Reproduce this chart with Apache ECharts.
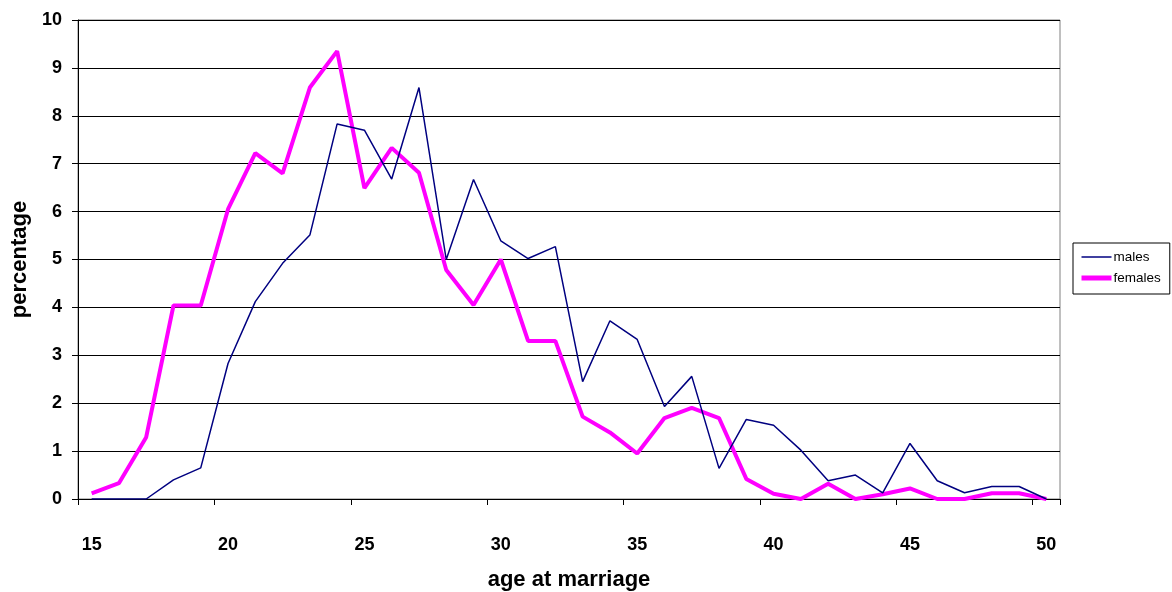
<!DOCTYPE html>
<html>
<head>
<meta charset="utf-8">
<script src="https://cdn.jsdelivr.net/npm/echarts@6/dist/echarts.min.js"></script>
<style>
  html, body { margin: 0; padding: 0; background: #fff; }
  #chart { width: 1172px; height: 592px; }
</style>
</head>
<body>
<div id="chart"></div>
<script>
// age at marriage, 15..50
const ages = [];
for (let a = 15; a <= 50; a++) ages.push(String(a));

const males = [
  0, 0, 0, 0.40, 0.65, 2.83, 4.12, 4.92, 5.51, 7.83,
  7.70, 6.68, 8.59, 5.00, 6.67, 5.39, 5.02, 5.27, 2.45, 3.72,
  3.33, 1.93, 2.56, 0.64, 1.66, 1.54, 1.02, 0.38, 0.50, 0.13,
  1.16, 0.38, 0.13, 0.26, 0.26, 0
];

const females = [
  0.12, 0.33, 1.29, 4.04, 4.04, 6.05, 7.22, 6.80, 8.59, 9.35,
  6.49, 7.33, 6.81, 4.78, 4.05, 5.00, 3.30, 3.30, 1.72, 1.39,
  0.95, 1.69, 1.90, 1.69, 0.42, 0.11, 0, 0.32, 0, 0.10,
  0.22, 0, 0, 0.12, 0.12, 0
];

const font = "Liberation Sans, Arial, sans-serif";

const myChart = echarts.init(document.getElementById("chart"));

const option = {
  backgroundColor: "#fff",
  animation: false,
  grid: {
    left: 78,
    right: 112,
    top: 20,
    bottom: 93,
    outerBoundsMode: "none",
    containLabel: false,
    show: true,
    borderColor: "#808080",
    borderWidth: 1,
  },
  legend: {
    orient: "vertical",
    left: 1073,
    top: 243,
    padding: [7, 9, 9, 6],
    itemGap: 7,
    itemWidth: 30,
    itemHeight: 14,
    backgroundColor: "#fff",
    borderColor: "#000",
    borderWidth: 1,
    borderRadius: 0,
    itemStyle: { opacity: 0 },
    textStyle: { fontFamily: font, fontSize: 13.5, color: "#000", padding: [0, 0, 0, -3] },
    data: [
      { name: "males", lineStyle: { width: 1.5, color: "#000080" } },
      { name: "females", lineStyle: { width: 5, color: "#FF00FF" } },
    ],
  },
  xAxis: {
    type: "category",
    data: ages,
    boundaryGap: true,
    name: "age at marriage",
    nameLocation: "middle",
    nameGap: 70,
    nameTextStyle: { fontFamily: font, fontSize: 22, fontWeight: "bold", color: "#000" },
    axisLine: { show: true, lineStyle: { color: "#000", width: 1 } },
    axisTick: { show: true, interval: 4, length: 6, lineStyle: { color: "#000" } },
    axisLabel: {
      interval: 4,
      margin: 37,
      fontFamily: font,
      fontSize: 18,
      fontWeight: "bold",
      color: "#000",
    },
    splitLine: { show: false },
  },
  yAxis: {
    type: "value",
    min: 0,
    max: 10,
    interval: 1,
    name: "percentage",
    nameLocation: "middle",
    nameGap: 43,
    nameTextStyle: { fontFamily: font, fontSize: 22, fontWeight: "bold", color: "#000" },
    axisLine: { show: true, lineStyle: { color: "#000", width: 1 } },
    axisTick: { show: true, length: 6, lineStyle: { color: "#000" } },
    axisLabel: {
      margin: 16,
      fontFamily: font,
      fontSize: 18,
      fontWeight: "bold",
      color: "#000",
    },
    splitLine: { show: true, lineStyle: { color: "#000", width: 1 } },
  },
  series: [
    {
      name: "males",
      type: "line",
      data: males,
      symbol: "none",
      color: "#000080",
      lineStyle: { color: "#000080", width: 1.5 },
      z: 3,
    },
    {
      name: "females",
      type: "line",
      data: females,
      symbol: "none",
      color: "#FF00FF",
      lineStyle: { color: "#FF00FF", width: 4 },
      z: 2,
    },
  ],
};

option && myChart.setOption(option);
</script>
</body>
</html>
